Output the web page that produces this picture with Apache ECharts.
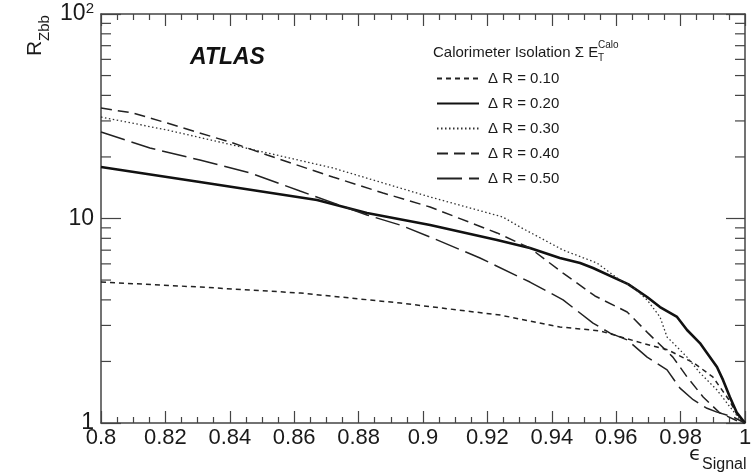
<!DOCTYPE html>
<html>
<head>
<meta charset="utf-8">
<script src="https://cdn.jsdelivr.net/npm/echarts@6/dist/echarts.min.js"></script>
<style>
  html, body { margin: 0; padding: 0; background: #fff; }
  #chart { width: 753px; height: 472px; }
</style>
</head>
<body>
<div id="chart"></div>
<script>
// Background rejection R_Zbb versus signal efficiency for calorimeter isolation cones

// Signal efficiency (x) and rejection (y) for each cone size
const eff10 = [0.800, 0.831, 0.862, 0.893, 0.924, 0.9425, 0.955, 0.968, 0.976, 0.984, 0.990, 0.995, 0.998, 1.000];
const rej10 = [4.89, 4.62, 4.32, 3.86, 3.37, 2.95, 2.82, 2.46, 2.28, 1.97, 1.68, 1.30, 1.07, 1.00];

const eff20 = [0.800, 0.8307, 0.8671, 0.8826, 0.9022, 0.923, 0.9332, 0.9425, 0.9488, 0.9528, 0.9637, 0.9696, 0.9736, 0.9789, 0.982, 0.986, 0.9882, 0.9913, 0.9932, 0.9953, 0.9975, 1.000];
const rej20 = [17.86, 15.09, 12.32, 10.64, 9.29, 7.85, 7.17, 6.41, 6.06, 5.73, 4.78, 4.13, 3.69, 3.30, 2.85, 2.46, 2.20, 1.88, 1.62, 1.34, 1.12, 1.00];

const eff30 = [0.800, 0.8205, 0.8463, 0.872, 0.9022, 0.9248, 0.9301, 0.9435, 0.954, 0.9612, 0.9652, 0.9696, 0.9736, 0.9758, 0.9767, 0.982, 0.986, 0.9913, 0.9953, 0.9991, 1.000];
const rej30 = [31.36, 27.09, 21.87, 17.66, 12.74, 10.17, 9.09, 7.01, 6.06, 5.00, 4.62, 4.00, 3.30, 2.63, 2.55, 2.10, 1.76, 1.45, 1.20, 1.01, 1.00];

const eff40 = [0.800, 0.8099, 0.8205, 0.841, 0.8516, 0.872, 0.8876, 0.9022, 0.923, 0.9332, 0.9435, 0.9534, 0.9634, 0.9699, 0.9776, 0.982, 0.987, 0.9922, 0.9984, 1.000];
const rej40 = [34.7, 32.8, 29.3, 23.39, 20.44, 15.95, 13.33, 11.38, 8.50, 7.17, 5.41, 4.18, 3.49, 2.75, 2.10, 1.68, 1.34, 1.12, 1.01, 1.00];

const eff50 = [0.800, 0.8152, 0.8307, 0.8463, 0.8618, 0.8826, 0.8929, 0.9022, 0.9177, 0.9332, 0.9435, 0.9528, 0.9581, 0.9634, 0.9696, 0.9758, 0.9798, 0.9839, 0.9882, 0.9913, 0.9963, 1.000];
const rej50 = [26.48, 22.12, 19.32, 16.69, 13.63, 10.40, 9.29, 8.12, 6.41, 4.89, 4.00, 3.08, 2.75, 2.55, 2.10, 1.82, 1.48, 1.30, 1.18, 1.13, 1.07, 1.00];

const seriesNames = ['Δ R = 0.10', 'Δ R = 0.20', 'Δ R = 0.30', 'Δ R = 0.40', 'Δ R = 0.50'];

// Axis ranges and tick labels
const xMin = 0.8, xMax = 1.0, xStep = 0.02;
const yMin = 1, yMax = 100;
const yTickLabels = { 1: '1', 10: '10', 100: '10{sup|2}' };
const yMinorTicks = [2, 3, 4, 5, 6, 7, 8, 9, 20, 30, 40, 50, 60, 70, 80, 90];

const FONT = '"Liberation Sans", Arial, Helvetica, sans-serif';
const AXIS_COLOR = '#444';
const TEXT_COLOR = '#1a1a1a';

const pairs = (xs, ys) => xs.map((x, i) => [x, ys[i]]);

const lineSeries = (name, xs, ys, width, dash, color) => ({
  name: name,
  type: 'line',
  xAxisIndex: 0,
  yAxisIndex: 0,
  data: pairs(xs, ys),
  symbol: 'none',
  smooth: false,
  clip: true,
  lineStyle: { color: color, width: width, type: dash, cap: 'butt' },
  itemStyle: { color: color },
  emphasis: { disabled: true },
  z: 3
});

const xAxisCommon = {
  type: 'value',
  min: xMin,
  max: xMax,
  interval: xStep,
  splitLine: { show: false },
  axisLine: { show: true, onZero: false, lineStyle: { color: AXIS_COLOR, width: 1.5 } },
  axisTick: { show: true, inside: true, length: 12, lineStyle: { color: AXIS_COLOR, width: 1.2 } },
  minorTick: { show: true, splitNumber: 4, length: 6, lineStyle: { color: AXIS_COLOR, width: 1.2 } }
};

const yAxisCommon = {
  type: 'log',
  logBase: 10,
  min: yMin,
  max: yMax,
  splitLine: { show: false },
  axisLine: { show: true, onZero: false, lineStyle: { color: AXIS_COLOR, width: 1.5 } },
  axisTick: { show: true, inside: true, length: 20, lineStyle: { color: AXIS_COLOR, width: 1.2 } }
};

const chart = echarts.init(document.getElementById('chart'), null, { renderer: 'canvas' });

chart.setOption({
  animation: false,
  backgroundColor: '#fff',
  textStyle: { fontFamily: FONT },
  grid: { left: 101, right: 8, top: 14, bottom: 49, containLabel: false, outerBoundsMode: 'none' },
  xAxis: [
    Object.assign({}, xAxisCommon, {
      position: 'bottom',
      axisLabel: {
        show: true, fontSize: 22, color: TEXT_COLOR, margin: 4, fontFamily: FONT,
        formatter: v => String(+v.toFixed(2))
      }
    }),
    Object.assign({}, xAxisCommon, {
      position: 'top',
      axisLabel: { show: false }
    })
  ],
  yAxis: [
    Object.assign({}, yAxisCommon, {
      position: 'left',
      axisLabel: {
        show: true, fontSize: 23, color: TEXT_COLOR, margin: 7, fontFamily: FONT,
        formatter: v => yTickLabels[Math.round(v)] || '',
        rich: { sup: { fontSize: 15, color: TEXT_COLOR, verticalAlign: 'top', padding: [0, 0, 10, 0], fontFamily: FONT } }
      }
    }),
    Object.assign({}, yAxisCommon, {
      position: 'right',
      axisTick: { show: true, inside: true, length: 19, lineStyle: { color: AXIS_COLOR, width: 1.2 } },
      axisLabel: { show: false }
    })
  ],
  legend: {
    data: seriesNames,
    orient: 'vertical',
    left: 436,
    top: 71,
    padding: 0,
    itemWidth: 42,
    itemHeight: 16,
    itemGap: 10,
    selectedMode: false,
    // line samples only, no marker on top of them
    itemStyle: { opacity: 0, borderWidth: 0 },
    textStyle: { fontSize: 15, color: TEXT_COLOR, fontFamily: FONT, padding: [0, 0, 0, 4] }
  },
  graphic: [
    { type: 'text', x: 190, y: 58, silent: true,
      style: { text: 'ATLAS', fontSize: 23, fontWeight: 'bold', fontStyle: 'italic', fontFamily: FONT,
               fill: '#111', verticalAlign: 'middle', align: 'left' } },
    { type: 'text', x: 433, y: 53, silent: true,
      style: { text: 'Calorimeter Isolation Σ E', fontSize: 15, fontFamily: FONT,
               fill: TEXT_COLOR, verticalAlign: 'middle', align: 'left' } },
    { type: 'text', x: 598, y: 45, silent: true,
      style: { text: 'Calo', fontSize: 10, fontFamily: FONT, fill: TEXT_COLOR, verticalAlign: 'middle', align: 'left' } },
    { type: 'text', x: 598, y: 58, silent: true,
      style: { text: 'T', fontSize: 10, fontFamily: FONT, fill: TEXT_COLOR, verticalAlign: 'middle', align: 'left' } },
    // rotated y-axis title R_Zbb
    { type: 'text', x: 46, y: 56, rotation: Math.PI / 2, silent: true,
      style: { text: 'R', fontSize: 21, fontFamily: FONT, fill: TEXT_COLOR, verticalAlign: 'bottom', align: 'left' } },
    { type: 'text', x: 52, y: 41, rotation: Math.PI / 2, silent: true,
      style: { text: 'Zbb', fontSize: 15, fontFamily: FONT, fill: TEXT_COLOR, verticalAlign: 'bottom', align: 'left' } },
    // x-axis title epsilon_Signal
    { type: 'text', x: 689, y: 455, silent: true,
      style: { text: 'ϵ', fontSize: 20, fontFamily: '"DejaVu Sans", sans-serif', fill: TEXT_COLOR, verticalAlign: 'middle', align: 'left' } },
    { type: 'text', x: 702, y: 465, silent: true,
      style: { text: 'Signal', fontSize: 16, fontFamily: FONT, fill: TEXT_COLOR, verticalAlign: 'middle', align: 'left' } }
  ],
  series: [
    lineSeries(seriesNames[0], eff10, rej10, 1.5, [5, 4], '#222'),
    lineSeries(seriesNames[1], eff20, rej20, 2.6, 'solid', '#111'),
    lineSeries(seriesNames[2], eff30, rej30, 1.3, [1.5, 2.5], '#333'),
    lineSeries(seriesNames[3], eff40, rej40, 1.5, [11, 6], '#222'),
    lineSeries(seriesNames[4], eff50, rej50, 1.5, [25, 7], '#222'),
    // minor ticks of the logarithmic y axis, mirrored on both sides of the frame
    {
      type: 'custom',
      name: 'yMinorTicks',
      xAxisIndex: 0,
      yAxisIndex: 0,
      silent: true,
      clip: false,
      data: yMinorTicks.map(v => [xMin, v]),
      renderItem: function (params, api) {
        const cs = params.coordSys;
        const p = api.coord([api.value(0), api.value(1)]);
        const style = { stroke: AXIS_COLOR, lineWidth: 1.2 };
        return {
          type: 'group',
          children: [
            { type: 'line', shape: { x1: cs.x, y1: p[1], x2: cs.x + 10, y2: p[1] }, style: style },
            { type: 'line', shape: { x1: cs.x + cs.width - 10, y1: p[1], x2: cs.x + cs.width, y2: p[1] }, style: style }
          ]
        };
      },
      z: 4
    }
  ]
});
</script>
</body>
</html>
